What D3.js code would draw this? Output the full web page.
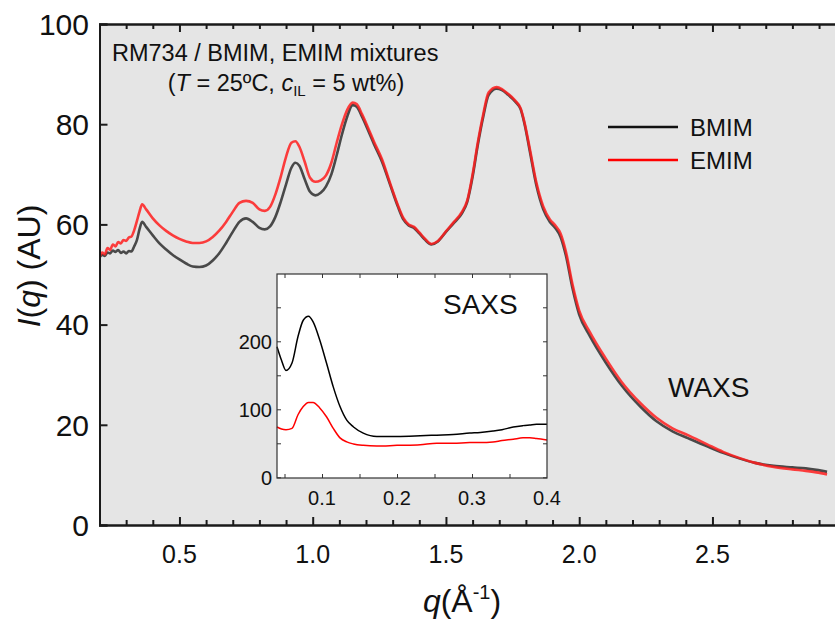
<!DOCTYPE html>
<html>
<head>
<meta charset="utf-8">
<script src="https://cdn.jsdelivr.net/npm/d3@7"></script>
<style>
  html, body { margin: 0; padding: 0; background: #fff; }
  svg { display: block; font-family: "Liberation Sans", Arial, sans-serif; }
</style>
</head>
<body>
<svg id="chart" width="835" height="621"></svg>
<script>
// WAXS profiles, q in 1/Å, intensity in arbitrary units
const qMain = [0.200,0.210,0.220,0.230,0.240,0.250,0.260,0.270,0.280,0.290,0.300,0.310,0.320,0.330,0.340,0.350,0.360,0.375,0.400,0.425,0.450,0.475,0.500,0.525,0.550,0.575,0.600,0.625,0.650,0.675,0.700,0.725,0.750,0.775,0.800,0.820,0.840,0.860,0.880,0.900,0.920,0.935,0.950,0.970,0.990,1.010,1.030,1.050,1.070,1.090,1.110,1.130,1.150,1.165,1.185,1.210,1.230,1.260,1.290,1.320,1.340,1.360,1.380,1.400,1.420,1.445,1.470,1.500,1.530,1.560,1.580,1.600,1.620,1.640,1.660,1.690,1.710,1.730,1.760,1.780,1.795,1.815,1.840,1.865,1.890,1.910,1.930,1.950,1.975,2.000,2.040,2.100,2.160,2.230,2.290,2.350,2.410,2.480,2.540,2.600,2.660,2.730,2.800,2.850,2.890,2.930];
const bmimMain = [53.4,53.9,53.7,54.4,54.2,54.8,54.5,54.9,54.3,54.6,54.2,54.7,54.6,55.6,56.8,59.0,60.5,59.5,57.8,56.2,55.0,53.9,53.0,52.2,51.6,51.5,51.8,52.8,54.3,56.3,58.5,60.5,61.2,60.5,59.3,59.0,59.6,61.5,64.5,68.0,71.3,72.3,71.7,69.0,66.5,65.8,66.3,67.6,70.0,73.8,78.0,81.6,83.8,83.5,81.5,78.5,76.0,72.5,68.0,63.5,61.0,59.8,59.3,58.2,57.0,56.0,56.6,58.5,60.3,62.2,64.5,69.5,76.0,81.5,85.8,87.1,86.8,86.0,84.5,83.0,80.0,74.5,67.6,63.0,60.5,59.3,57.5,53.8,47.2,42.0,37.7,32.4,27.8,23.6,20.7,18.7,17.3,15.7,14.4,13.3,12.4,11.8,11.5,11.3,11.0,10.6];
const emimMain = [53.4,54.4,54.0,55.3,54.9,56.0,55.6,56.5,56.2,56.9,56.7,57.4,57.6,58.8,60.6,62.5,64.0,63.0,61.2,59.8,58.7,57.8,57.1,56.6,56.3,56.3,56.6,57.5,58.8,60.5,62.5,64.3,64.7,64.3,63.0,62.7,63.5,66.0,69.5,73.5,76.3,76.6,75.5,72.5,69.3,68.5,68.8,69.8,72.3,76.3,80.0,82.9,84.3,84.0,82.0,79.0,76.5,73.0,68.3,63.8,61.3,60.0,59.5,58.4,57.2,56.1,56.7,58.6,60.5,62.5,64.8,70.0,76.5,82.0,86.3,87.4,87.0,86.2,84.7,83.2,80.3,75.0,68.2,63.6,61.0,59.8,58.2,54.6,48.0,42.8,38.5,33.2,28.5,24.3,21.4,19.3,17.9,16.1,14.6,13.4,12.4,11.6,11.1,10.8,10.5,10.1];

// SAXS profiles shown in the inset
const qSaxs = [0.040,0.046,0.052,0.060,0.068,0.075,0.082,0.088,0.097,0.106,0.115,0.124,0.133,0.142,0.155,0.173,0.200,0.231,0.253,0.275,0.297,0.311,0.328,0.340,0.355,0.368,0.377,0.386,0.400];
const bmimSaxs = [192,172,157,168,207,231,237,229,202,168,133,104,84,74,65,60,60,61,62,63,65,66,68,70,74,76,77,78,78];
const emimSaxs = [74,71,70,72,92,104,110,110,102,89,72,58,52,49,47,46,47,48,50,50,51,51,52,54,56,58,58,57,55];

const xTicksMain = [0.5, 1.0, 1.5, 2.0, 2.5];
const yTicksMain = [0, 20, 40, 60, 80, 100];
const xTicksSaxs = [0.1, 0.2, 0.3, 0.4];
const yTicksSaxs = [0, 100, 200];

const seriesNames = ["BMIM", "EMIM"];
const seriesColors = ["#2e2e2e", "#ff1f1f"];

const svg = d3.select("#chart");

// ---------- main panel ----------
const M = { left: 99.5, top: 24, bottom: 525, right: 845.7 };
const x = d3.scaleLinear().domain([0.2, 3.0]).range([M.left, M.right]);
const y = d3.scaleLinear().domain([0, 100]).range([M.bottom, M.top]);

svg.append("rect")
  .attr("x", M.left).attr("y", M.top)
  .attr("width", M.right - M.left).attr("height", M.bottom - M.top)
  .attr("fill", "#e5e5e5");

svg.append("clipPath").attr("id", "mainClip")
  .append("rect").attr("x", M.left).attr("y", M.top)
  .attr("width", M.right - M.left).attr("height", M.bottom - M.top);

const lineMain = (vals) => d3.line()
  .x((d, i) => x(qMain[i])).y(d => y(d))
  .curve(d3.curveMonotoneX)(vals);

const gLines = svg.append("g").attr("clip-path", "url(#mainClip)");
[bmimMain, emimMain].forEach((vals, k) => {
  gLines.append("path")
    .attr("d", lineMain(vals))
    .attr("fill", "none")
    .attr("stroke", seriesColors[k])
    .attr("stroke-opacity", 0.85)
    .attr("stroke-width", 2.6)
    .attr("stroke-linejoin", "round");
});

// axes with inward ticks
const minorX = d3.range(3, 30).map(v => v / 10).filter(v => Math.abs(v * 2 - Math.round(v * 2)) > 1e-6);
const axisStroke = "#1a1a1a";

const bottomAxis = svg.append("g").attr("transform", `translate(0,${M.bottom})`)
  .call(d3.axisBottom(x).tickValues(xTicksMain).tickSize(-8).tickPadding(0).tickFormat(() => ""));
const bottomMinor = svg.append("g").attr("transform", `translate(0,${M.bottom})`)
  .call(d3.axisBottom(x).tickValues(minorX).tickSize(-5).tickFormat(() => ""));
const topAxis = svg.append("g").attr("transform", `translate(0,${M.top})`)
  .call(d3.axisTop(x).tickValues(xTicksMain).tickSize(-8).tickFormat(() => ""));
const topMinor = svg.append("g").attr("transform", `translate(0,${M.top})`)
  .call(d3.axisTop(x).tickValues(minorX).tickSize(-5).tickFormat(() => ""));
const leftAxis = svg.append("g").attr("transform", `translate(${M.left},0)`)
  .call(d3.axisLeft(y).tickValues(yTicksMain).tickSize(-8).tickFormat(() => ""));

[bottomAxis, bottomMinor, topAxis, topMinor, leftAxis].forEach(g => {
  g.select(".domain").attr("stroke", axisStroke).attr("stroke-width", 2);
  g.selectAll(".tick line").attr("stroke", axisStroke).attr("stroke-width", 2);
});

// tick labels
svg.append("g").selectAll("text").data(xTicksMain).join("text")
  .attr("x", d => x(d)).attr("y", 563)
  .attr("text-anchor", "middle").attr("font-size", 25).attr("fill", "#111")
  .text(d => d3.format(".1f")(d));
svg.append("g").selectAll("text").data(yTicksMain).join("text")
  .attr("x", 89).attr("y", d => y(d)).attr("dy", "0.36em")
  .attr("text-anchor", "end").attr("font-size", 30).attr("fill", "#111")
  .text(d => d);

// axis titles
const xt = svg.append("text").attr("x", 462).attr("y", 612)
  .attr("text-anchor", "middle").attr("font-size", 32).attr("fill", "#111");
xt.append("tspan").attr("font-style", "italic").text("q");
xt.append("tspan").text("(Å");
xt.append("tspan").attr("dy", -13).attr("font-size", 20).text("-1");
xt.append("tspan").attr("dy", 13).text(")");

const yt = svg.append("text").attr("transform", "translate(40,266) rotate(-90)")
  .attr("text-anchor", "middle").attr("font-size", 32).attr("fill", "#111");
yt.append("tspan").attr("font-style", "italic").text("I");
yt.append("tspan").text("(");
yt.append("tspan").attr("font-style", "italic").text("q");
yt.append("tspan").text(") (AU)");

// annotation
svg.append("text").attr("x", 112).attr("y", 61)
  .attr("font-size", 23.5).attr("fill", "#111")
  .text("RM734 / BMIM, EMIM mixtures");
const ann = svg.append("text").attr("x", 286).attr("y", 91)
  .attr("text-anchor", "middle").attr("font-size", 23.5).attr("fill", "#111");
ann.append("tspan").text("(");
ann.append("tspan").attr("font-style", "italic").text("T");
ann.append("tspan").text(" = 25ºC, ");
ann.append("tspan").attr("font-style", "italic").text("c");
ann.append("tspan").attr("dy", 5).attr("font-size", 15).text("IL");
ann.append("tspan").attr("dy", -5).text(" = 5 wt%)");

// legend
const legend = svg.append("g");
seriesNames.forEach((name, k) => {
  const ly = 127 + k * 33;
  legend.append("line").attr("x1", 608).attr("x2", 678).attr("y1", ly).attr("y2", ly)
    .attr("stroke", k === 0 ? "#111" : "#ff0000").attr("stroke-width", 2.6);
  legend.append("text").attr("x", 690).attr("y", ly).attr("dy", "0.36em")
    .attr("font-size", 24).attr("fill", "#111").text(name);
});

svg.append("text").attr("x", 668).attr("y", 397)
  .attr("font-size", 28).attr("fill", "#111").text("WAXS");

// ---------- inset (SAXS) ----------
const I = { left: 277, right: 547, top: 274, bottom: 478 };
const xi = d3.scaleLinear().domain([0.04, 0.4]).range([I.left, I.right]);
const yi = d3.scaleLinear().domain([0, 300]).range([I.bottom - 0.7, I.top - 0.7]);

svg.append("rect").attr("x", I.left).attr("y", I.top)
  .attr("width", I.right - I.left).attr("height", I.bottom - I.top)
  .attr("fill", "#fff");

const insetColors = ["#000", "#ff0000"];
[bmimSaxs, emimSaxs].forEach((vals, k) => {
  svg.append("path")
    .attr("d", d3.line().x((d, i) => xi(qSaxs[i])).y(d => yi(d)).curve(d3.curveMonotoneX)(vals))
    .attr("fill", "none").attr("stroke", insetColors[k]).attr("stroke-width", 1.5);
});

const xiTicks = d3.range(1, 8).map(v => v * 0.05);
const yiTicks = d3.range(0, 7).map(v => v * 50);
const gi = svg.append("g");
gi.append("g").attr("transform", `translate(0,${I.bottom})`)
  .call(d3.axisBottom(xi).tickValues(xiTicks).tickSize(-4).tickFormat(() => ""));
gi.append("g").attr("transform", `translate(0,${I.top})`)
  .call(d3.axisTop(xi).tickValues(xiTicks).tickSize(-4).tickFormat(() => ""));
gi.append("g").attr("transform", `translate(${I.left},0)`)
  .call(d3.axisLeft(yi).tickValues(yiTicks.filter(v => v < 300)).tickSize(-4).tickFormat(() => ""));
gi.append("g").attr("transform", `translate(${I.right},0)`)
  .call(d3.axisRight(yi).tickValues(yiTicks.filter(v => v < 300)).tickSize(-4).tickFormat(() => ""));
gi.selectAll(".domain").remove();
gi.selectAll(".tick line").attr("stroke", "#333").attr("stroke-width", 1);

svg.append("rect").attr("x", I.left).attr("y", I.top)
  .attr("width", I.right - I.left).attr("height", I.bottom - I.top)
  .attr("fill", "none").attr("stroke", "#333").attr("stroke-width", 1.2);

svg.append("g").selectAll("text").data(xTicksSaxs).join("text")
  .attr("x", d => xi(d)).attr("y", 505)
  .attr("text-anchor", "middle").attr("font-size", 20).attr("fill", "#111")
  .text(d => d3.format(".1f")(d));
svg.append("g").selectAll("text").data(yTicksSaxs).join("text")
  .attr("x", 272).attr("y", d => yi(d)).attr("dy", "0.36em")
  .attr("text-anchor", "end").attr("font-size", 20).attr("fill", "#111")
  .text(d => d);

svg.append("text").attr("x", 443).attr("y", 314)
  .attr("font-size", 28).attr("fill", "#111").text("SAXS");
</script>
</body>
</html>
